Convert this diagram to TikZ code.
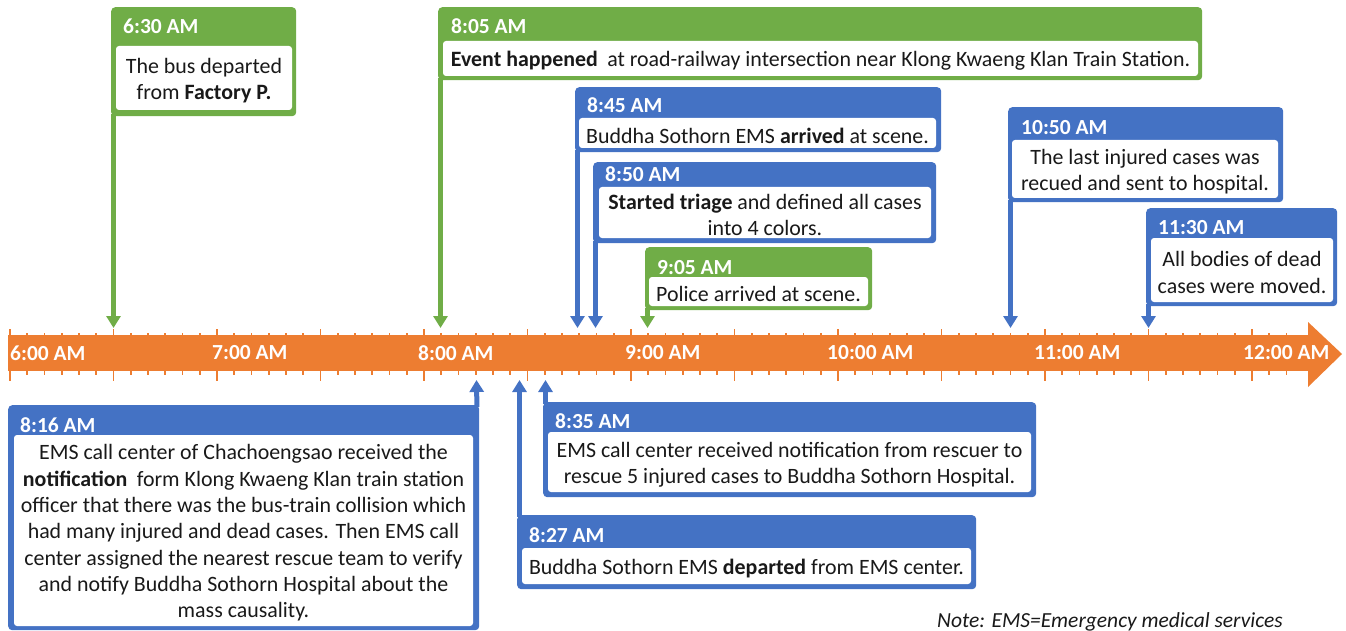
\documentclass[tikz,border=0pt]{standalone}
\usepackage{fontspec}
\setmainfont{Carlito}
\usetikzlibrary{arrows.meta,calc}
\definecolor{tlgreen}{HTML}{70AD47}
\definecolor{tlblue}{HTML}{4472C4}
\definecolor{tlorange}{HTML}{ED7D31}
\tikzset{
  obox/.style={draw=none, rounded corners=4pt, inner sep=0pt, anchor=north west},
  ibox/.style={fill=white, draw=none, rounded corners=3pt, inner sep=0pt},
  itext/.style={inner sep=0pt, align=center, font=\fontsize{21.9}{26.3}\selectfont, text=black!90},
  hdr/.style={inner sep=0pt, anchor=base west, text=white, font=\fontsize{21.5}{26}\selectfont\bfseries},
  conn/.style={draw=#1, line width=5pt, -{Triangle[width=14pt,length=12pt]}},
  axlbl/.style={inner sep=0pt, anchor=west, text=white, font=\fontsize{21.5}{26}\selectfont\bfseries},
  tick/.style={draw=tlorange, line width=1.8pt},
}
% #1 name, #2 colour, #3 x1, #4 y1, #5 x2, #6 y2 (outer box)
\newcommand\tlouter[6]{\node[obox, fill=#2, minimum width={(#5)-(#3)}, minimum height={(#6)-(#4)}] (#1) at (#3,#4) {};}
% #1 name, #2 x1, #3 y1, #4 x2, #5 y2, #6 text
\newcommand\tlinner[6]{\node[ibox, minimum width={(#4)-(#2)}, minimum height={(#5)-(#3)}] (#1) at ({((#2)+(#4))/2},{((#3)+(#5))/2}) {};
  \node[itext] (#1t) at ([yshift=-2.5pt]#1.center) {#6};}
\begin{document}
\begin{tikzpicture}[x=1pt,y=-1pt]
\useasboundingbox (0,0) rectangle (1346,631);
% axis
\fill[tlorange] (8,335) rectangle (1309,371);
\fill[tlorange] (1308,322) -- (1342,354) -- (1308,387) -- cycle;
\foreach \k in {0,...,74}{
  \pgfmathsetmacro\xx{10+\k*17.25}
  \pgfmathtruncatemacro\mm{mod(\k,6)}
  \ifnum\mm=0
    \draw[tick] (\xx,329) -- (\xx,381);
  \else
    \draw[tick] (\xx,333) -- (\xx,375);
  \fi
}
\node[axlbl] (l6) at (10,353) {6:00 AM};
\node[axlbl] (l7) at (212,353) {7:00 AM};
\node[axlbl] (l8) at (418,353) {8:00 AM};
\node[axlbl] (l9) at (625,353) {9:00 AM};
\node[axlbl] (l10) at (827,353) {10:00 AM};
\node[axlbl] (l11) at (1034,353) {11:00 AM};
\node[axlbl] (l12) at (1243,353) {12:00 AM};
% axis targets
\coordinate (a630) at (113.5,328);
\coordinate (a805) at (440.5,328);
\coordinate (a845) at (577.5,328);
\coordinate (a850) at (595.5,328);
\coordinate (a905) at (647.5,328);
\coordinate (a1050) at (1010.5,328);
\coordinate (a1130) at (1148.5,328);
\coordinate (a816) at (476.5,380);
\coordinate (a827) at (519.5,380);
\coordinate (a835) at (545.5,380);
% outer boxes
\tlouter{b630}{tlgreen}{111}{7}{296}{116}
\tlouter{b805}{tlgreen}{438}{7}{1202}{80}
\tlouter{b845}{tlblue}{575}{87}{941}{152}
\tlouter{b850}{tlblue}{593}{162}{936}{243}
\tlouter{b905}{tlgreen}{645}{247}{872}{310}
\tlouter{b1050}{tlblue}{1008}{107}{1283}{202}
\tlouter{b1130}{tlblue}{1146}{208}{1337}{306}
\tlouter{b816}{tlblue}{8}{405}{479}{630}
\tlouter{b835}{tlblue}{543}{402}{1036}{497}
\tlouter{b827}{tlblue}{517}{515}{976}{589}
% connectors
\draw[conn=tlgreen] ([xshift=2.5pt,yshift=2pt]b630.south west) -- (a630);
\draw[conn=tlgreen] ([xshift=2.5pt,yshift=2pt]b805.south west) -- (a805);
\draw[conn=tlblue] ([xshift=2.5pt,yshift=2pt]b845.south west) -- (a845);
\draw[conn=tlblue] ([xshift=2.5pt,yshift=2pt]b850.south west) -- (a850);
\draw[conn=tlgreen] ([xshift=2.5pt,yshift=2pt]b905.south west) -- (a905);
\draw[conn=tlblue] ([xshift=2.5pt,yshift=2pt]b1050.south west) -- (a1050);
\draw[conn=tlblue] ([xshift=2.5pt,yshift=2pt]b1130.south west) -- (a1130);
\draw[conn=tlblue] ([xshift=-2.5pt,yshift=-2pt]b816.north east) -- (a816);
\draw[conn=tlblue] ([xshift=2.5pt,yshift=-2pt]b827.north west) -- (a827);
\draw[conn=tlblue] ([xshift=2.5pt,yshift=-2pt]b835.north west) -- (a835);
% headers
\node[hdr] (h630) at (123,34) {6:30 AM};
\node[hdr] (h805) at (451,34) {8:05 AM};
\node[hdr] (h845) at (587,113) {8:45 AM};
\node[hdr] (h850) at (605,182) {8:50 AM};
\node[hdr] (h905) at (657,274) {9:05 AM};
\node[hdr] (h1050) at (1021,135) {10:50 AM};
\node[hdr] (h1130) at (1158,234) {11:30 AM};
\node[hdr] (h816) at (20,432) {8:16 AM};
\node[hdr] (h835) at (555,428) {8:35 AM};
\node[hdr] (h827) at (529,542) {8:27 AM};
% inner boxes
\tlinner{i630}{116}{46}{292}{110}{The bus departed\\from \textbf{Factory P.}}
\tlinner{i805}{443}{41}{1198}{76}{\textbf{Event happened}\hspace{0.2em} at road-railway intersection near Klong Kwaeng Klan Train Station.}
\tlinner{i845}{579}{118}{936}{148}{Buddha Sothorn EMS \textbf{arrived} at scene.}
\tlinner{i850}{599}{187}{931}{238}{\textbf{Started triage} and defined all cases\\into 4 colors.}
\tlinner{i905}{649}{277}{868}{306}{Police arrived at scene.}
\tlinner{i1050}{1012}{140}{1278}{198}{The last injured cases was\\recued and sent to hospital.}
\tlinner{i1130}{1151}{238}{1333}{302}{All bodies of dead\\cases were moved.}
\tlinner{i816}{14}{435}{473}{626}{EMS call center of Chachoengsao received the\\\textbf{notification}\hspace{0.2em} form Klong Kwaeng Klan train station\\officer that there was the bus-train collision which\\had many injured and dead cases. Then EMS call\\center assigned the nearest rescue team to verify\\and notify Buddha Sothorn Hospital about the\\mass causality.}
\tlinner{i835}{548}{432}{1031}{492}{EMS call center received notification from rescuer to\\rescue 5 injured cases to Buddha Sothorn Hospital.}
\tlinner{i827}{522}{548}{971}{584}{Buddha Sothorn EMS \textbf{departed} from EMS center.}
% note
\node[inner sep=0pt, anchor=base west, font=\fontsize{21.5}{26}\selectfont\itshape, text=black!90] (note) at (937,627) {Note: EMS=Emergency medical services};
\end{tikzpicture}
\end{document}
